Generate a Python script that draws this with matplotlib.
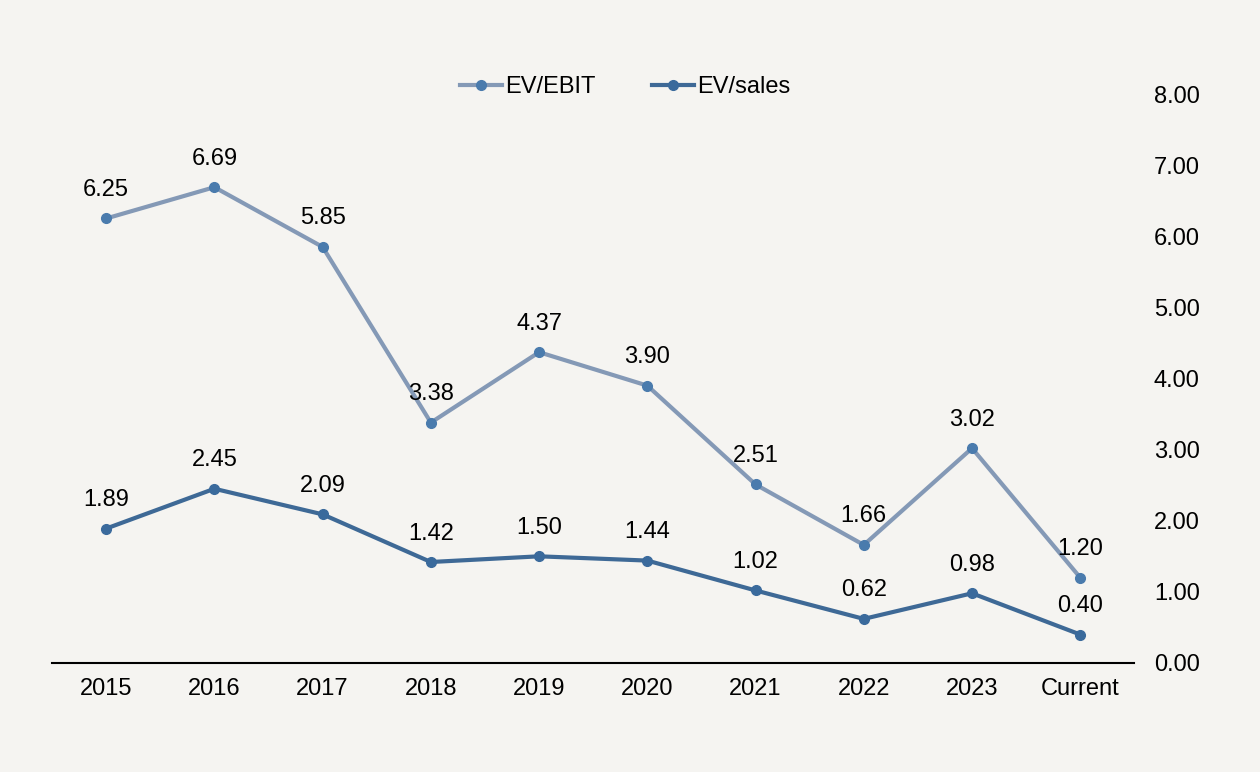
import matplotlib.pyplot as plt

years = ['2015', '2016', '2017', '2018', '2019', '2020', '2021', '2022', '2023', 'Current']
ev_ebit = [6.25, 6.69, 5.85, 3.38, 4.37, 3.90, 2.51, 1.66, 3.02, 1.20]
ev_sales = [1.89, 2.45, 2.09, 1.42, 1.50, 1.44, 1.02, 0.62, 0.98, 0.40]
yticks = [0, 1, 2, 3, 4, 5, 6, 7, 8]

plt.rcParams['font.family'] = ['Liberation Sans', 'DejaVu Sans']
bg = '#f5f4f1'
fs = 17

fig = plt.figure(figsize=(12.6, 7.72), dpi=100, facecolor=bg)
ax = fig.add_axes([0.0413, 0.1412, 0.859, 0.737], facecolor=bg)

x = range(len(years))
ax.plot(x, ev_ebit, color='#8499b6', lw=3, marker='o', ms=7,
        mfc='#4a7bad', mec='#4a7bad', label='EV/EBIT')
ax.plot(x, ev_sales, color='#3e6996', lw=3, marker='o', ms=7,
        mfc='#3a6a9c', mec='#3a6a9c', label='EV/sales')

for xi, v in zip(x, ev_ebit):
    ax.annotate('%.2f' % v, (xi, v), xytext=(0, 20.5), textcoords='offset points',
                ha='center', va='center', fontsize=fs)
for xi, v in zip(x, ev_sales):
    ax.annotate('%.2f' % v, (xi, v), xytext=(0, 20.5), textcoords='offset points',
                ha='center', va='center', fontsize=fs)

ax.set_xlim(-0.5, len(years) - 0.5)
ax.set_ylim(0, 8)
ax.set_xticks(list(x))
ax.set_xticklabels(years, fontsize=fs)
ax.yaxis.tick_right()
ax.set_yticks(yticks)
ax.set_yticklabels(['%.2f' % t for t in yticks], fontsize=fs)
ax.tick_params(axis='both', length=0)
ax.tick_params(axis='y', pad=14)
ax.tick_params(axis='x', pad=11)
for s in ['top', 'left', 'right']:
    ax.spines[s].set_visible(False)
ax.spines['bottom'].set_linewidth(1.5)

fig.legend(loc='center', bbox_to_anchor=(0.496, 0.887), ncol=2, frameon=False,
           fontsize=fs, handlelength=1.8, handletextpad=0.1, columnspacing=2.4)

fig.savefig('out.png', dpi=100, facecolor=bg)
